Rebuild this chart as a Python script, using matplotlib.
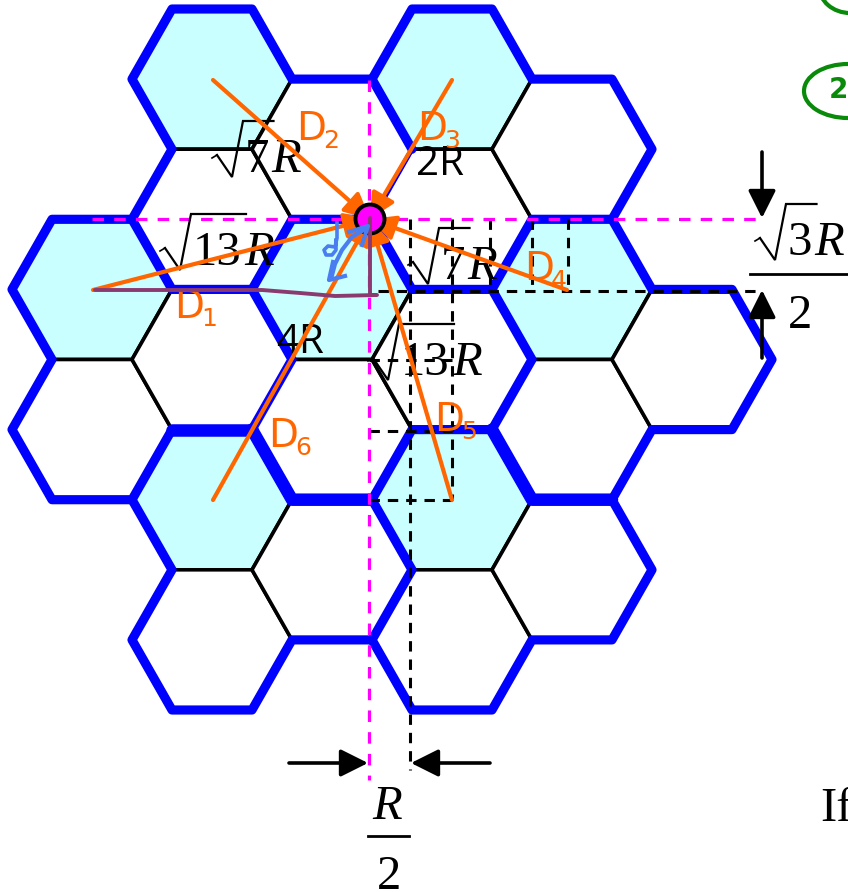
import matplotlib
matplotlib.use("Agg")
import matplotlib.pyplot as plt
from matplotlib.patches import Polygon, Ellipse, Circle

# lattice: column steps are R/2, row steps are the hexagon half height
x0, dx = 12, 40
y0, dy = 9, 70.1

# hexagon centres in lattice units
cells = [(2, 4), (2, 6),
         (5, 1), (5, 3), (5, 5), (5, 7), (5, 9),
         (8, 2), (8, 4), (8, 6), (8, 8),
         (11, 1), (11, 3), (11, 5), (11, 7), (11, 9),
         (14, 2), (14, 4), (14, 6), (14, 8),
         (17, 5)]
co_channel = [(5, 1), (11, 1), (2, 4), (8, 4), (14, 4), (5, 7), (11, 7)]

# cluster borders in lattice units
borders = [
    [(9, 1), (7, 1), (6, 0), (4, 0), (3, 1), (4, 2), (3, 3), (1, 3), (0, 4), (1, 5), (0, 6),
     (1, 7), (3, 7), (4, 6), (6, 6), (7, 7), (9, 7), (10, 6), (12, 6), (13, 5), (12, 4),
     (10, 4), (9, 3), (7, 3), (6, 4), (4, 4), (3, 3)],
    [(9, 1), (10, 2)],
    [(9, 1), (10, 0), (12, 0), (13, 1), (15, 1), (16, 2), (15, 3), (13, 3), (12, 4)],
    [(15, 3), (16, 4), (18, 4), (19, 5), (18, 6), (16, 6), (15, 7), (13, 7), (12, 6)],
    [(15, 7), (16, 8), (15, 9), (13, 9), (12, 10), (10, 10), (9, 9), (10, 8), (9, 7)],
    [(9, 9), (7, 9), (6, 10), (4, 10), (3, 9), (4, 8), (3, 7)],
    [(6, 4), (7, 5), (6, 6)],
]
thin_borders = [[(10, 2), (9, 3)]]
heavy_borders = [[(4, 6), (6, 6)], [(12, 6), (13, 7), (15, 7)], [(6, 6), (7, 7), (9, 7)]]

mobile = (370, 219)
interferers = [(93, 290), (213, 80), (452, 80), (567, 290), (452, 500), (213, 500)]
d_labels = [("1", 174, 318), ("2", 296, 140), ("3", 417, 140), ("4", 524, 280), ("5", 434, 431), ("6", 268, 447)]

# radical labels: left end, baseline, digits
root_labels = [(212, 172, "7"), (160, 265, "13"), (408, 279, "7"), (368, 375, "13"), (755, 255, "3")]

# hand drawn strokes
purple_x = [95, 150, 210, 262, 300, 335, 377, 370, 370]
purple_y = [290, 290, 290, 290, 293, 296, 295, 295, 218]
blue_arc_x = [367, 352, 342, 335, 331]
blue_arc_y = [228, 237, 250, 264, 279]
delta_x = [337, 337, 335, 328, 324, 326, 332, 336, 336]
delta_y = [223, 238, 247, 246, 250, 255, 255, 250, 240]


def lat(p):
    return (x0 + p[0] * dx, y0 + p[1] * dy)


def hexagon(k, j):
    return [lat(p) for p in [(k - 2, j), (k - 1, j - 1), (k + 1, j - 1), (k + 2, j), (k + 1, j + 1), (k - 1, j + 1)]]


fig = plt.figure(figsize=(8.48, 8.92), dpi=100)
ax = fig.add_axes([0, 0, 1, 1])
ax.set_xlim(0, 848)
ax.set_ylim(892, 0)
ax.axis("off")

for c in cells:
    fc = "#C9FFFF" if c in co_channel else "white"
    ax.add_patch(Polygon(hexagon(*c), closed=True, fc=fc, ec="black", lw=2.6, zorder=1))


def draw_paths(paths, width):
    for path in paths:
        pts = [lat(p) for p in path]
        ax.plot([p[0] for p in pts], [p[1] for p in pts], color="#0000FF", lw=width,
                solid_joinstyle="round", solid_capstyle="round", zorder=2)


draw_paths(borders, 6.6)
draw_paths(thin_borders, 3.6)
draw_paths(heavy_borders, 9)

# black construction lines
dash = dict(color="black", lw=2.2, ls=(0, (3.4, 2.6)), zorder=3)
ax.plot([378, 762], [291, 291], **dash)
ax.plot([410, 410], [219, 770], **dash)
ax.plot([452, 452], [219, 500], **dash)
for xv in [490, 532, 568]:
    ax.plot([xv, xv], [219, 291], **dash)
for yv in [360, 431, 500]:
    ax.plot([369, 452], [yv, yv], **dash)

# magenta reference lines
pink = dict(color="#FF00FF", lw=2.3, ls=(0, (3.6, 3.2)), zorder=3)
ax.plot([92, 762], [219, 219], **pink)
ax.plot([369, 369], [80, 780], **pink)


def serif(x, y, s, style="normal"):
    ax.text(x, y, s, fontsize=35, family="Liberation Serif", style=style,
            va="baseline", ha="left", zorder=4)


def root(x, base, digits):
    bar_end = x + 37 + 24.5 * len(digits)
    ax.plot([x, x + 5], [base - 14, base - 17], color="black", lw=1.2, zorder=4)
    ax.plot([x + 5, x + 20, x + 31, bar_end], [base - 17, base + 5, base - 51, base - 51],
            color="black", lw=1.6, zorder=4, solid_joinstyle="miter")
    serif(x + 33, base, digits)
    serif(x + 35 + 24.5 * len(digits), base, "R", style="italic")


for x, base, digits in root_labels:
    root(x, base, digits)

ax.text(416, 175, "2R", fontsize=29, family="Open Sans", va="baseline", zorder=4)
ax.text(276, 353, "4R", fontsize=29, family="Open Sans", va="baseline", zorder=4)

# orange interference paths
for p in interferers:
    ax.annotate("", xy=mobile, xytext=p, zorder=5,
                arrowprops=dict(arrowstyle="-|>", color="#FF6600", lw=3, mutation_scale=38,
                                shrinkA=0, shrinkB=0))
for num, xt, yt in d_labels:
    ax.text(xt, yt, "D", fontsize=28, color="#FF6600", va="baseline", zorder=6)
    ax.text(xt + 27, yt + 8, num, fontsize=18, color="#FF6600", va="baseline", zorder=6)

ax.add_patch(Circle(mobile, 14.5, fc="#FF00FF", ec="black", lw=2.8, zorder=6))
ax.plot(purple_x, purple_y, color="#8B3A70", lw=2.8, zorder=7, solid_capstyle="round")

# hand drawn angle mark
ax.plot(blue_arc_x, blue_arc_y, color="#4A7DF0", lw=3, zorder=8, solid_capstyle="round")
ax.plot([349, 368, 362], [232, 226, 245], color="#4A7DF0", lw=3, zorder=8)
ax.plot([333, 329, 345], [262, 280, 276], color="#4A7DF0", lw=3, zorder=8)
ax.plot(delta_x, delta_y, color="#4A7DF0", lw=2.6, zorder=8)

# dimension arrows
arrow = dict(arrowstyle="-|>", color="black", lw=2.6, mutation_scale=42, shrinkA=0, shrinkB=0)
ax.annotate("", xy=(762, 218), xytext=(762, 152), arrowprops=arrow, zorder=6)
ax.annotate("", xy=(762, 290), xytext=(762, 358), arrowprops=arrow, zorder=6)
ax.annotate("", xy=(368, 763), xytext=(289, 763), arrowprops=arrow, zorder=6)
ax.annotate("", xy=(411, 763), xytext=(490, 763), arrowprops=arrow, zorder=6)

# fractions on the side and below
ax.plot([750, 848], [274, 274], color="black", lw=2, zorder=4)
serif(788, 328, "2")
serif(372, 819, "R", style="italic")
ax.plot([368, 409], [836, 836], color="black", lw=2, zorder=4)
serif(377, 889, "2")
serif(820, 821, "If")

# cut off green bullets on the right edge
ax.add_patch(Ellipse((848, 91), 88, 54, fc="none", ec="#0A8A0A", lw=3, zorder=4))
ax.add_patch(Ellipse((850, -14), 62, 54, fc="none", ec="#0A8A0A", lw=3, zorder=4))
ax.text(829, 98, "2", fontsize=20, color="#0A8A0A", fontweight="bold", va="baseline", zorder=4)

fig.savefig("out.png", dpi=100)
